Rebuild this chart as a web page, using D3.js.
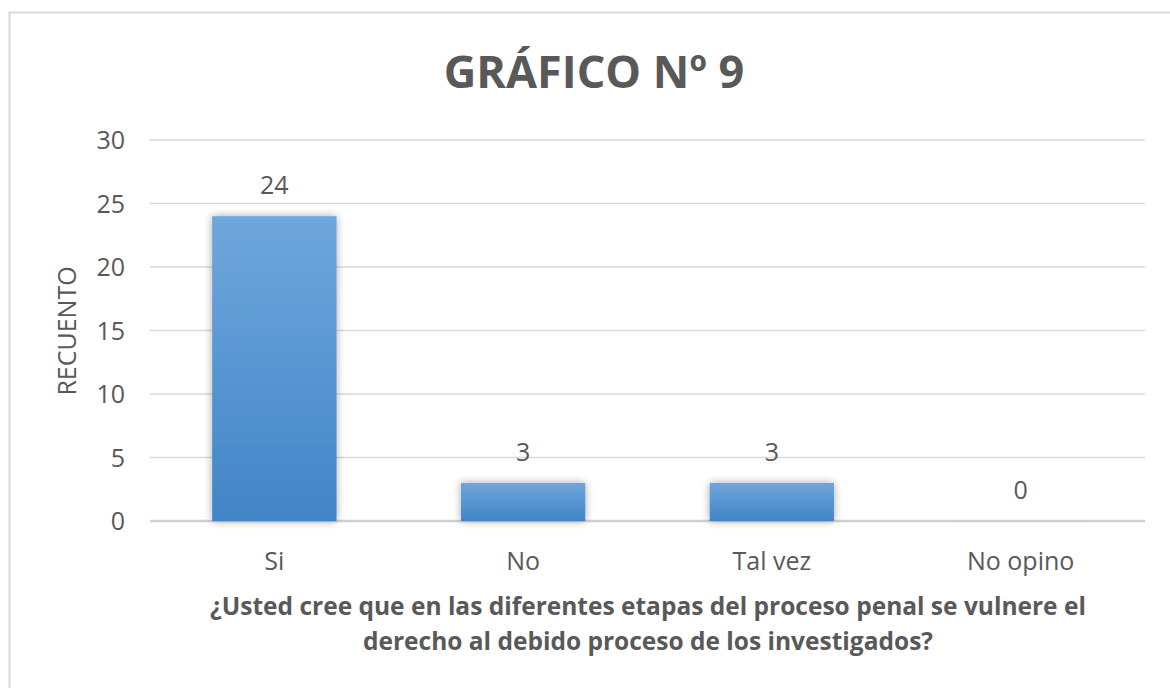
<!DOCTYPE html>
<html>
<head>
<meta charset="utf-8">
<script src="https://cdn.jsdelivr.net/npm/d3@7"></script>
<style>
  body { margin: 0; background: #fff; }
  text { font-family: "Open Sans", Lato, sans-serif; fill: #595959; }
</style>
</head>
<body>
<script>
const categories = ["Si", "No", "Tal vez", "No opino"];
const counts = [24, 3, 3, 0];
const yTicks = [0, 5, 10, 15, 20, 25, 30];

const W = 1170, H = 688;
const margin = { top: 140, right: 25, bottom: 167, left: 150 },
    width = W - margin.left - margin.right,
    height = H - margin.top - margin.bottom;

const root = d3.select("body").append("svg")
    .attr("width", W)
    .attr("height", H);

// outer chart border
root.append("rect")
    .attr("x", 9.5).attr("y", 12.5)
    .attr("width", W + 10).attr("height", H + 10)
    .attr("fill", "#fff")
    .attr("stroke", "#d9d9d9")
    .attr("stroke-width", 2);

const defs = root.append("defs");
const grad = defs.append("linearGradient")
    .attr("id", "barGrad")
    .attr("x1", 0).attr("y1", 0).attr("x2", 0).attr("y2", 1);
grad.append("stop").attr("offset", "0%").attr("stop-color", "#6fa7dc");
grad.append("stop").attr("offset", "100%").attr("stop-color", "#4185c7");

const shadow = defs.append("filter")
    .attr("id", "shadow")
    .attr("x", "-20%").attr("y", "-20%")
    .attr("width", "140%").attr("height", "140%");
shadow.append("feGaussianBlur").attr("in", "SourceAlpha").attr("stdDeviation", 4);
shadow.append("feOffset").attr("dx", 0).attr("dy", 0).attr("result", "blur");
shadow.append("feComponentTransfer").append("feFuncA").attr("type", "linear").attr("slope", 0.35);
const merge = shadow.append("feMerge");
merge.append("feMergeNode");
merge.append("feMergeNode").attr("in", "SourceGraphic");

const svg = root.append("g")
    .attr("transform", "translate(" + margin.left + "," + margin.top + ")");

const x = d3.scaleBand()
    .domain(categories)
    .range([0, width])
    .paddingInner(0.5)
    .paddingOuter(0.25);

const y = d3.scaleLinear()
    .domain([0, 30])
    .range([height, 0]);

// gridlines
svg.append("g")
    .selectAll("line")
    .data(yTicks)
    .join("line")
    .attr("x1", 0)
    .attr("x2", width)
    .attr("y1", d => y(d))
    .attr("y2", d => y(d))
    .attr("stroke", d => d === 0 ? "#d0d0d0" : "#d9d9d9")
    .attr("stroke-width", d => d === 0 ? 2.5 : 1.3);

// y tick labels
svg.append("g")
    .selectAll("text")
    .data(yTicks)
    .join("text")
    .attr("x", -25)
    .attr("y", d => y(d))
    .attr("dy", "0.36em")
    .attr("text-anchor", "end")
    .style("font-size", "25px")
    .text(d => d);

// bars
svg.append("g")
    .selectAll("rect")
    .data(counts)
    .join("rect")
    .attr("x", (d, i) => x(categories[i]))
    .attr("y", d => y(d))
    .attr("width", x.bandwidth())
    .attr("height", d => Math.max(0.01, height - y(d)))
    .attr("fill", "url(#barGrad)")
    .attr("filter", "url(#shadow)");

// value labels
svg.append("g")
    .selectAll("text")
    .data(counts)
    .join("text")
    .attr("x", (d, i) => x(categories[i]) + x.bandwidth() / 2)
    .attr("y", d => y(d) - 22)
    .attr("text-anchor", "middle")
    .style("font-size", "25px")
    .text(d => d);

// category labels
svg.append("g")
    .selectAll("text")
    .data(categories)
    .join("text")
    .attr("x", d => x(d) + x.bandwidth() / 2)
    .attr("y", height + 49)
    .attr("text-anchor", "middle")
    .style("font-size", "25px")
    .text(d => d);

// title
root.append("text")
    .attr("x", 594)
    .attr("y", 88)
    .attr("text-anchor", "middle")
    .attr("font-weight", 700)
    .style("font-size", "45px")
    .text("GRÁFICO Nº 9");

// y axis title
root.append("text")
    .attr("transform", "translate(76,331) rotate(-90)")
    .attr("text-anchor", "middle")
    .style("font-size", "25px")
    .text("RECUENTO");

// x axis title
const xTitle = root.append("text")
    .attr("text-anchor", "middle")
    .attr("font-weight", 700)
    .style("font-size", "24.5px");
xTitle.append("tspan")
    .attr("x", 648).attr("y", 615)
    .text("¿Usted cree que en las diferentes etapas del proceso penal se vulnere el");
xTitle.append("tspan")
    .attr("x", 648).attr("y", 650)
    .text("derecho al debido proceso de los investigados?");
</script>
</body>
</html>
